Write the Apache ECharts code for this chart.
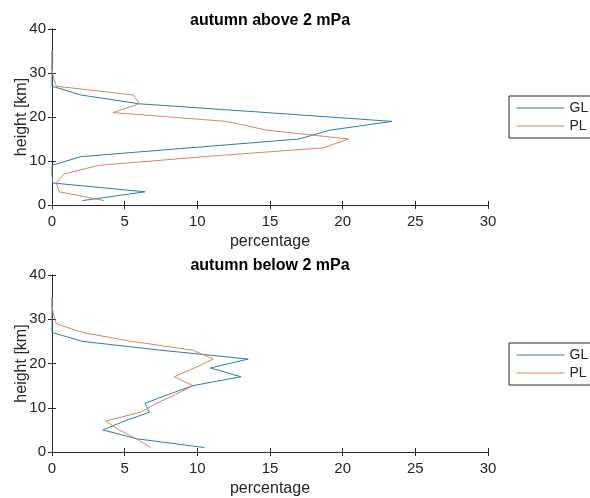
<!DOCTYPE html>
<html>
<head>
<meta charset="utf-8">
<script src="https://cdn.jsdelivr.net/npm/echarts@6/dist/echarts.min.js"></script>
<style>
html,body{margin:0;padding:0;background:#fff;}
#main{width:590px;height:498px;}
</style>
</head>
<body>
<div id="main"></div>
<script>
// heights [km]
var heights = [1,3,5,7,9,11,13,15,17,19,21,23,25,27,29,31,33,35];
// percentages, autumn above 2 mPa
var aboveGL = [2.1,6.4,0.05,0,0,2.0,9.5,17.0,19.1,23.4,14.8,6.0,2.0,0,0,0,0,0];
var abovePL = [3.6,0.5,0.3,0.8,3.2,10.5,18.7,20.4,14.8,12.0,4.2,6.0,5.6,0.3,0.1,0,0,0];
// percentages, autumn below 2 mPa
var belowGL = [10.5,5.8,3.5,5.0,6.7,6.4,8.0,9.7,13.0,10.9,13.5,7.5,2.1,0,0,0,0,0];
var belowPL = [6.8,5.8,4.6,3.7,6.1,7.2,8.5,9.7,8.4,9.8,11.1,9.7,5.5,2.1,0.3,0.1,0,0];

var titles = ['autumn above 2 mPa', 'autumn below 2 mPa'];
var seriesNames = ['GL', 'PL'];
var xTicks = {min: 0, max: 30, interval: 5};
var yTicks = {min: 0, max: 40, interval: 10};

var BLUE = '#2380b2', ORANGE = '#d6865a', AX = '#262626';
var FONT = 'Liberation Sans, Arial, sans-serif';

function pairs(xs){ return xs.map(function(v,i){ return [v, heights[i]]; }); }

var grids = [
  {left: 52, top: 29, width: 436, height: 176, outerBoundsMode: 'none', containLabel: false},
  {left: 52, top: 275, width: 436, height: 177, outerBoundsMode: 'none', containLabel: false}
];

var xAxes = [], yAxes = [], series = [], legends = [], titleArr = [];
[ [aboveGL, abovePL], [belowGL, belowPL] ].forEach(function(d, g){
  xAxes.push({
    type: 'value', gridIndex: g, min: xTicks.min, max: xTicks.max, interval: xTicks.interval,
    name: 'percentage', nameLocation: 'middle', nameGap: 29, nameMoveOverlap: false,
    nameTextStyle: {fontFamily: FONT, fontSize: 16, color: AX},
    axisLine: {show: true, lineStyle: {color: AX, width: 1}},
    axisTick: {show: true, inside: true, length: 4, lineStyle: {color: AX}},
    axisLabel: {fontFamily: FONT, fontSize: 15, color: AX, margin: 9},
    splitLine: {show: false}
  });
  xAxes.push({
    type: 'value', gridIndex: g, position: 'top', min: xTicks.min, max: xTicks.max, interval: xTicks.interval,
    axisLine: {show: true, lineStyle: {color: AX, width: 1}},
    axisTick: {show: true, inside: true, length: 4, lineStyle: {color: AX}},
    axisLabel: {show: false}, splitLine: {show: false}
  });
  yAxes.push({
    type: 'value', gridIndex: g, min: yTicks.min, max: yTicks.max, interval: yTicks.interval,
    name: 'height [km]', nameLocation: 'middle', nameGap: 22, nameMoveOverlap: false,
    nameTextStyle: {fontFamily: FONT, fontSize: 16, color: AX},
    axisLine: {show: true, lineStyle: {color: AX, width: 1}},
    axisTick: {show: true, inside: true, length: 4, lineStyle: {color: AX}},
    axisLabel: {fontFamily: FONT, fontSize: 15, color: AX, margin: 6},
    splitLine: {show: false}
  });
  yAxes.push({
    type: 'value', gridIndex: g, position: 'right', min: yTicks.min, max: yTicks.max, interval: yTicks.interval,
    axisLine: {show: true, lineStyle: {color: AX, width: 1}},
    axisTick: {show: true, inside: true, length: 4, lineStyle: {color: AX}},
    axisLabel: {show: false}, splitLine: {show: false}
  });
  series.push({
    name: seriesNames[0], type: 'line', xAxisIndex: 2*g, yAxisIndex: 2*g,
    data: pairs(d[0]), symbol: 'none', lineStyle: {color: BLUE, width: 1}, itemStyle: {color: BLUE},
    silent: true, animation: false
  });
  series.push({
    name: seriesNames[1], type: 'line', xAxisIndex: 2*g, yAxisIndex: 2*g,
    data: pairs(d[1]), symbol: 'none', lineStyle: {color: ORANGE, width: 1}, itemStyle: {color: ORANGE},
    silent: true, animation: false
  });
  legends.push({
    data: seriesNames, orient: 'vertical', left: 509, top: g === 0 ? 96 : 343,
    itemWidth: 48, itemHeight: 14, itemGap: 4,
    padding: [5, 30, 5, 7],
    borderColor: AX, borderWidth: 1, backgroundColor: '#fff',
    itemStyle: {opacity: 0},
    lineStyle: {width: 1},
    textStyle: {fontFamily: FONT, fontSize: 14, color: AX},
    selectedMode: false
  });
  titleArr.push({
    text: titles[g], left: 270, textAlign: 'center', top: g === 0 ? 13 : 258, padding: 0,
    textStyle: {fontFamily: FONT, fontSize: 16, fontWeight: 'bold', color: '#000'}
  });
});

var chart = echarts.init(document.getElementById('main'), null, {renderer: 'canvas'});
chart.setOption({
  animation: false,
  backgroundColor: '#fff',
  title: titleArr,
  legend: legends,
  grid: grids,
  xAxis: xAxes,
  yAxis: yAxes,
  series: series
});
</script>
</body>
</html>
